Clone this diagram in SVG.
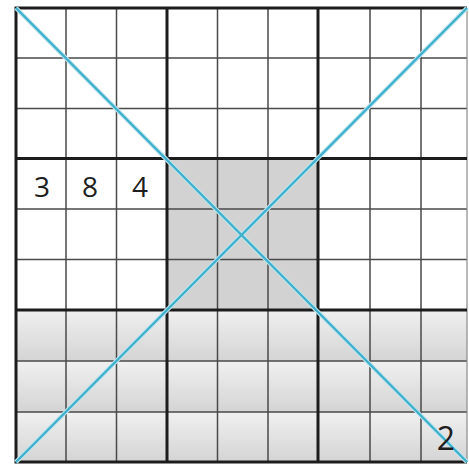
<svg xmlns="http://www.w3.org/2000/svg" width="469" height="464" viewBox="0 0 469 464">
  <defs>
    <linearGradient id="band" x1="0" y1="0" x2="0" y2="1">
      <stop offset="0" stop-color="#f0f0f0"/>
      <stop offset="1" stop-color="#d4d4d4"/>
    </linearGradient>
    <style>
      .thin { stroke: #4a4a4a; stroke-width: 1.5; fill: none; }
      .thick { stroke: #1c1c1c; stroke-width: 3; fill: none; }
      .diag { stroke: #3fb0cc; stroke-width: 2.4; fill: none; }
      .halo { stroke: #bfe6ef; stroke-width: 4.5; fill: none; }
      .digit { font-family: "Open Sans", "Liberation Sans", sans-serif; fill: #1e1e1e; text-anchor: middle; }
    </style>
  </defs>
  <rect x="0" y="0" width="469" height="464" fill="#ffffff"/>
  <g id="shading">
    <rect x="167" y="158.5" width="151" height="151.5" fill="#d2d2d2"/>
    <rect x="16" y="310" width="451" height="51" fill="url(#band)"/>
    <rect x="16" y="361" width="451" height="51" fill="url(#band)"/>
    <rect x="16" y="412" width="451" height="50" fill="url(#band)"/>
  </g>
  <g id="grid-thin">
    <path class="thin" d="M66 8V462 M116.5 8V462 M217.5 8V462 M268 8V462 M370 8V462 M421 8V462 M16 58H467 M16 108.5H467 M16 209H467 M16 259.5H467 M16 361H467 M16 412H467"/>
    <path d="M467 8V462" stroke="#8a8a8a" stroke-width="1.2"/>
  </g>
  <g id="grid-thick">
    <path class="thick" d="M167 8V462 M318 8V462 M16 158.5H467 M16 310H467 M16 8H467 M16 462H467 M16 6.5V463.5"/>
  </g>
  <g id="connectors">
    <path class="halo" d="M16 8L467 462 M467 8L16 462"/>
    <path class="diag" d="M16 8L467 462 M467 8L16 462"/>
  </g>
  <g id="digits">
    <text class="digit" x="42" y="197" font-size="28">3</text>
    <text class="digit" x="90" y="197" font-size="28">8</text>
    <text class="digit" x="140" y="197" font-size="28">4</text>
    <text class="digit" x="446" y="450" font-size="32">2</text>
  </g>
</svg>
